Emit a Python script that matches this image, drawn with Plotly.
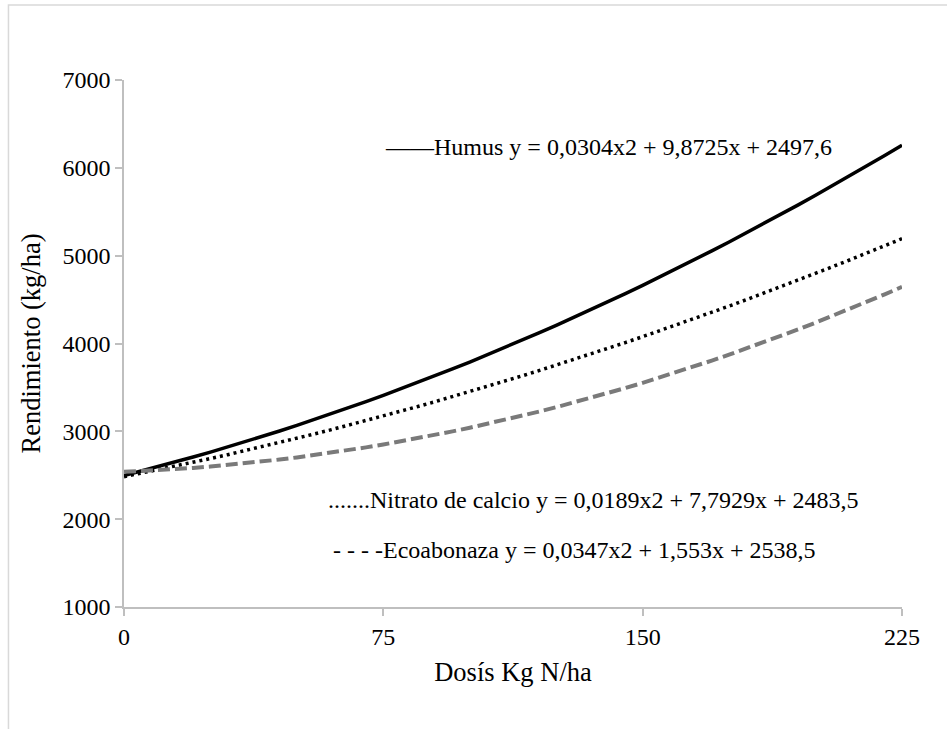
import numpy as np
import plotly.graph_objects as go

# Quadratic trend fits: y = a*x^2 + b*x + c
series_names = ["Humus", "Nitrato de calcio", "Ecoabonaza"]
coef_a = [0.0304, 0.0189, 0.0347]
coef_b = [9.8725, 7.7929, 1.553]
coef_c = [2497.6, 2483.5, 2538.5]
equation_labels = [
    "——Humus y = 0,0304x2 + 9,8725x + 2497,6",
    ".......Nitrato de calcio y = 0,0189x2 + 7,7929x + 2483,5",
    "- - - -Ecoabonaza y = 0,0347x2 + 1,553x + 2538,5",
]
x_ticks = [0, 75, 150, 225]
y_ticks = [1000, 2000, 3000, 4000, 5000, 6000, 7000]

dose = np.arange(0, 226, 5)

SERIF = "Liberation Serif, Times New Roman, serif"

line_styles = [
    dict(color="#000000", width=3.5, dash="solid"),
    dict(color="#000000", width=3.5, dash="3px,4px"),
    dict(color="#7a7a7a", width=4, dash="12px,5px"),
]

fig = go.Figure()
for name, a, b, c, ls in zip(series_names, coef_a, coef_b, coef_c, line_styles):
    fig.add_trace(go.Scatter(
        x=dose, y=a * dose**2 + b * dose + c,
        mode="lines", name=name, line=ls, showlegend=False,
    ))

# equation labels inside the plotting area
label_pos = [(74.9, 6237), (58.4, 2218), (59.9, 1649)]
for text, (lx, ly) in zip(equation_labels, label_pos):
    fig.add_annotation(
        x=lx, y=ly, xref="x", yref="y", text=text, showarrow=False,
        xanchor="left", yanchor="middle",
        font=dict(family=SERIF, size=24, color="#000000"),
    )

axis_common = dict(
    showgrid=False, zeroline=False, showline=True, linecolor="#bfbfbf",
    linewidth=1.5, ticks="outside", ticklen=7, tickcolor="#bfbfbf",
    tickwidth=1.5,
    tickfont=dict(family=SERIF, size=24, color="#000000"),
)

fig.update_xaxes(
    range=[0, 225], tickvals=x_ticks,
    title=dict(text="Dosís Kg N/ha", standoff=14,
               font=dict(family=SERIF, size=26.5, color="#000000")),
    **axis_common,
)
fig.update_yaxes(
    range=[1000, 7000], tickvals=y_ticks,
    title=dict(text="Rendimiento (kg/ha)", standoff=14,
               font=dict(family=SERIF, size=26.5, color="#000000")),
    **axis_common,
)

# chart-area border
fig.add_shape(
    type="rect", xref="paper", yref="paper",
    x0=-0.1485, x1=1.2, y0=-0.3, y1=1.1423,
    line=dict(color="#d9d9d9", width=1.5), fillcolor="rgba(0,0,0,0)",
    layer="below",
)

fig.update_layout(
    width=947, height=729,
    margin=dict(l=124, r=45, t=80, b=122),
    paper_bgcolor="#ffffff", plot_bgcolor="#ffffff",
    font=dict(family=SERIF, color="#000000"),
)

fig.write_html("out.html")
